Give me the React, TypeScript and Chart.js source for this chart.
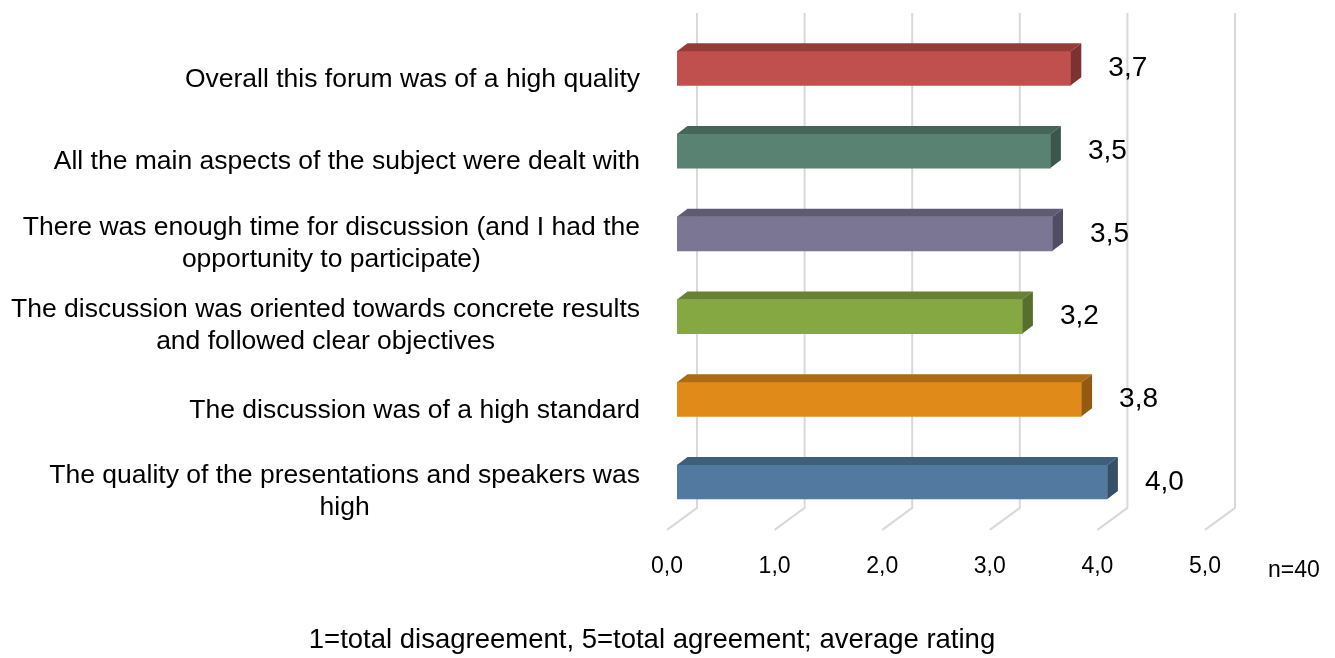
import React, { useEffect, useRef } from 'react';
import { Chart, registerables } from 'chart.js';

Chart.register(...registerables);

const FONT = "'Liberation Sans', Arial, sans-serif";

const categories: string[][] = [
  ['Overall this forum was of a high quality'],
  ['All the main aspects of the subject were dealt with'],
  ['There was enough time for discussion (and I had the', 'opportunity to participate)'],
  ['The discussion was oriented towards concrete results', 'and followed clear objectives'],
  ['The discussion was of a high standard'],
  ['The quality of the presentations and speakers was', 'high'],
];
const values: number[] = [3.66, 3.47, 3.49, 3.21, 3.76, 4.0];
const frontColors: string[] = ['#C0504D', '#5A8272', '#7A7693', '#86A843', '#E08A1A', '#5279A0'];
const topColors: string[] = ['#953C3A', '#466559', '#5E5B73', '#678234', '#AD6B14', '#3F5E7C'];
const sideColors: string[] = ['#7E3230', '#3B564B', '#4F4D62', '#576E2C', '#935B11', '#354F69'];
const xTicks: number[] = [0, 1, 2, 3, 4, 5];
const axisTitle = '1=total disagreement, 5=total agreement; average rating';
const sampleNote = 'n=40';

const fmt = (v: number) => v.toFixed(1).replace('.', ',');

const DEPTH_X = 10.5;
const DEPTH_Y = 8;

const grid3d = {
  id: 'grid3d',
  beforeDatasetsDraw(chart: any) {
    const { ctx, chartArea: ca } = chart;
    const xs = chart.scales.x;
    ctx.save();
    ctx.strokeStyle = '#D9D9D9';
    ctx.lineWidth = 2;
    for (const v of xTicks) {
      const px = xs.getPixelForValue(v);
      ctx.beginPath();
      ctx.moveTo(px + 20, ca.top - 14);
      ctx.lineTo(px + 20, ca.bottom - 15.5);
      ctx.lineTo(px - 10, ca.bottom + 6.5);
      ctx.stroke();
    }
    ctx.restore();
  },
};

const bar3d = {
  id: 'bar3d',
  afterDatasetsDraw(chart: any) {
    const { ctx } = chart;
    const meta = chart.getDatasetMeta(0);
    ctx.save();
    meta.data.forEach((bar: any, i: number) => {
      const { x, y, base, height } = bar.getProps(['x', 'y', 'base', 'height'], true);
      const top = y - height / 2;
      const bottom = y + height / 2;
      ctx.fillStyle = topColors[i];
      ctx.beginPath();
      ctx.moveTo(base, top);
      ctx.lineTo(base + DEPTH_X, top - DEPTH_Y);
      ctx.lineTo(x + DEPTH_X, top - DEPTH_Y);
      ctx.lineTo(x, top);
      ctx.closePath();
      ctx.fill();
      ctx.fillStyle = sideColors[i];
      ctx.beginPath();
      ctx.moveTo(x, top);
      ctx.lineTo(x + DEPTH_X, top - DEPTH_Y);
      ctx.lineTo(x + DEPTH_X, bottom - DEPTH_Y);
      ctx.lineTo(x, bottom);
      ctx.closePath();
      ctx.fill();
      ctx.fillStyle = '#000';
      ctx.font = `28px ${FONT}`;
      ctx.textAlign = 'center';
      ctx.textBaseline = 'middle';
      ctx.fillText(fmt(values[i]), x + 57, y);
    });
    ctx.restore();
  },
};

const labels3d = {
  id: 'labels3d',
  afterDraw(chart: any) {
    const { ctx } = chart;
    const ys = chart.scales.y;
    ctx.save();
    ctx.fillStyle = '#000';
    ctx.font = `26.5px ${FONT}`;
    ctx.textBaseline = 'middle';
    ctx.textAlign = 'center';
    const right = 640;
    const lh = 32;
    categories.forEach((lines, i) => {
      const cy = ys.getPixelForValue(i) + (lines.length > 1 ? 9.5 : 11);
      const w = Math.max(...lines.map((l) => ctx.measureText(l).width));
      const cx = right - w / 2;
      lines.forEach((l, j) => {
        ctx.fillText(l, cx, cy + (j - (lines.length - 1) / 2) * lh);
      });
    });
    ctx.font = `23px ${FONT}`;
    ctx.textAlign = 'left';
    ctx.fillText(sampleNote, 1268, 571);
    ctx.font = `27.5px ${FONT}`;
    ctx.textAlign = 'center';
    ctx.fillText(axisTitle, 652, 640);
    ctx.restore();
  },
};

export default function App() {
  const ref = useRef<HTMLCanvasElement | null>(null);
  useEffect(() => {
    if (!ref.current) return;
    const chart = new Chart(ref.current, {
      type: 'bar',
      data: {
        labels: categories.map((c) => c.join(' ')),
        datasets: [
          {
            data: values,
            backgroundColor: frontColors,
            borderWidth: 0,
            barThickness: 34,
          },
        ],
      },
      options: {
        indexAxis: 'y',
        animation: false,
        responsive: false,
        devicePixelRatio: 1,
        layout: { padding: { left: 677, right: 120, top: 27, bottom: 49 } },
        plugins: { legend: { display: false }, tooltip: { enabled: false }, title: { display: false } },
        scales: {
          x: {
            type: 'linear',
            min: 0,
            max: 5,
            position: 'bottom',
            grid: { display: false, drawTicks: false },
            border: { display: false },
            ticks: {
              stepSize: 1,
              padding: 29,
              labelOffset: -10,
              autoSkip: false,
              maxRotation: 0,
              color: '#000',
              font: { family: FONT, size: 23 },
              callback: (v: any) => fmt(Number(v)),
            },
          },
          y: { display: false },
        },
      },
      plugins: [grid3d, bar3d, labels3d],
    });
    return () => chart.destroy();
  }, []);
  return (
    <div style={{ position: 'fixed', left: 0, top: 0, width: 1335, height: 658, background: '#fff' }}>
      <canvas ref={ref} width={1335} height={658} style={{ width: 1335, height: 658 }} />
    </div>
  );
}
